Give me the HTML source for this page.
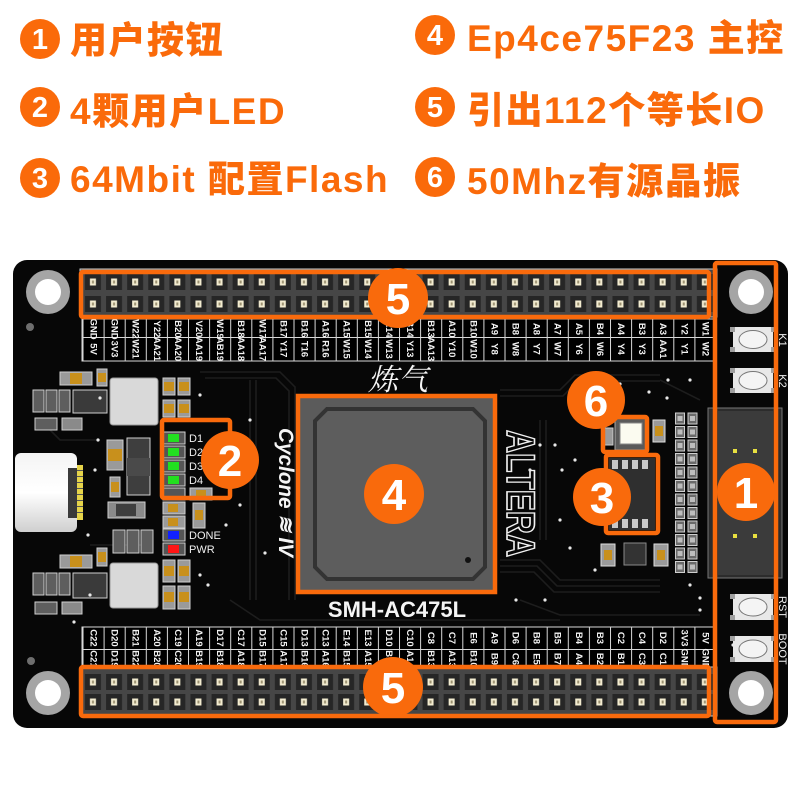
<!DOCTYPE html>
<html><head><meta charset="utf-8">
<style>
html,body{margin:0;padding:0;background:#fff;}
body{width:800px;height:800px;position:relative;overflow:hidden;font-family:"Liberation Sans","Noto Sans CJK SC",sans-serif;}
.t{position:absolute;font-size:37px;font-weight:900;color:#fa6a0a;line-height:37px;letter-spacing:1.5px;white-space:nowrap;font-family:"Liberation Sans","Noto Sans CJK SC",sans-serif;}
svg{position:absolute;left:0;top:0;}
</style></head><body>
<svg width="800" height="800" viewBox="0 0 800 800" xmlns="http://www.w3.org/2000/svg">
<defs>
  <pattern id="pinsT" x="82.45" y="271" width="21.1" height="22" patternUnits="userSpaceOnUse">
    <rect x="2.5" y="3" width="16" height="16" fill="#262626"/>
    <rect x="7.5" y="7.5" width="6" height="7" fill="#f3ecd0"/>
    <rect x="9.5" y="9.5" width="2" height="3" fill="#9a9070"/>
  </pattern>
  <pattern id="pinsB" x="82.45" y="672" width="21.1" height="20" patternUnits="userSpaceOnUse">
    <rect x="2.5" y="2" width="16" height="16" fill="#262626"/>
    <rect x="7.5" y="6.5" width="6" height="7" fill="#f3ecd0"/>
    <rect x="9.5" y="8.5" width="2" height="3" fill="#9a9070"/>
  </pattern>
  <pattern id="gridV" x="82.5" y="0" width="21.1" height="10" patternUnits="userSpaceOnUse">
    <rect x="0" y="0" width="1" height="10" fill="#d8d8d8"/>
  </pattern>
  <pattern id="rpack" x="675" y="412" width="23" height="13.5" patternUnits="userSpaceOnUse">
    <rect x="0.5" y="1" width="9" height="11" fill="#6a6a6a" stroke="#cfcfcf" stroke-width="1"/>
    <rect x="13" y="1" width="9" height="11" fill="#6a6a6a" stroke="#cfcfcf" stroke-width="1"/>
    <rect x="2.5" y="4" width="5" height="5" fill="#bdbdbd"/>
    <rect x="15" y="4" width="5" height="5" fill="#bdbdbd"/>
  </pattern>
  <linearGradient id="usb" x1="0" y1="0" x2="0" y2="1">
    <stop offset="0" stop-color="#f4f4f4"/>
    <stop offset="0.5" stop-color="#ffffff"/>
    <stop offset="1" stop-color="#cfcfcf"/>
  </linearGradient>
</defs>

<!-- Board -->
<rect x="13" y="260" width="775" height="468" rx="14" fill="#070707"/>

<!-- subtle traces -->
<g fill="none" stroke="#1d1d1d" stroke-width="1.6">
  <path d="M200 372 H280 L295 387 V600"/>
  <path d="M205 378 H276 L289 391 V600"/>
  <path d="M500 390 H560 L575 375 H660"/>
  <path d="M500 396 H563 L578 381 H660"/>
  <path d="M500 560 H540 L560 580 H660"/>
  <path d="M500 566 H537 L557 586 H660"/>
  <path d="M500 572 H534 L554 592 H660"/>
  <path d="M230 600 L260 620 H560"/>
  <path d="M100 440 H60 L40 420"/>
  <path d="M520 600 L560 615 H700"/>
  <path d="M660 380 L700 400"/>
  <path d="M90 545 H150"/>
  <path d="M250 380 V600"/>
  <path d="M256 380 V600"/>
  <path d="M540 420 V540"/>
  <path d="M546 420 V540"/>
</g>

<!-- small gray marker dots -->
<circle cx="30" cy="327" r="4" fill="#6e6e6e"/>
<circle cx="31" cy="661" r="4" fill="#6e6e6e"/>

<!-- Mounting holes -->
<g>
  <circle cx="48" cy="292" r="22" fill="#a5a5a5"/><circle cx="48" cy="292" r="13" fill="#fff"/>
  <circle cx="751" cy="292" r="22" fill="#a5a5a5"/><circle cx="751" cy="292" r="13" fill="#fff"/>
  <circle cx="48" cy="693" r="22" fill="#a5a5a5"/><circle cx="48" cy="693" r="13" fill="#fff"/>
  <circle cx="751" cy="693" r="22" fill="#a5a5a5"/><circle cx="751" cy="693" r="13" fill="#fff"/>
</g>

<!-- TOP HEADER -->
<rect x="80" y="269" width="637" height="48" fill="#464646" stroke="#cfcfcf" stroke-width="1"/>
<rect x="80" y="271" width="637" height="44" fill="url(#pinsT)"/>
<rect x="82" y="319" width="634" height="42" fill="#000" stroke="#d8d8d8" stroke-width="1"/>
<rect x="82" y="319" width="635" height="42" fill="url(#gridV)"/>
<rect x="82" y="337" width="634" height="1" fill="#d8d8d8"/>

<!-- BOTTOM HEADER -->
<rect x="82" y="627" width="634" height="41" fill="#000" stroke="#d8d8d8" stroke-width="1"/>
<rect x="82" y="627" width="635" height="41" fill="url(#gridV)"/>
<rect x="82" y="649" width="634" height="1" fill="#d8d8d8"/>
<rect x="80" y="667" width="637" height="49" fill="#464646" stroke="#cfcfcf" stroke-width="1"/>
<rect x="80" y="672" width="637" height="40" fill="url(#pinsB)"/>

<!-- pin labels -->
<g fill="#f2f2f2" font-family="Liberation Sans, sans-serif" font-size="9.5" font-weight="bold" text-anchor="middle" dominant-baseline="central">
  <!-- top row1 -->
  <text transform="translate(93,329) rotate(90)">GND</text>
  <text transform="translate(114.1,329) rotate(90)">GND</text>
  <text transform="translate(135.2,329) rotate(90)">W22</text>
  <text transform="translate(156.3,329) rotate(90)">Y22</text>
  <text transform="translate(177.4,329) rotate(90)">B20</text>
  <text transform="translate(198.5,329) rotate(90)">V20</text>
  <text transform="translate(219.6,329) rotate(90)">W19</text>
  <text transform="translate(240.7,329) rotate(90)">B18</text>
  <text transform="translate(261.8,329) rotate(90)">W17</text>
  <text transform="translate(282.9,329) rotate(90)">B17</text>
  <text transform="translate(304,329) rotate(90)">B16</text>
  <text transform="translate(325.1,329) rotate(90)">A16</text>
  <text transform="translate(346.2,329) rotate(90)">A15</text>
  <text transform="translate(367.3,329) rotate(90)">B15</text>
  <text transform="translate(388.4,329) rotate(90)">A14</text>
  <text transform="translate(409.5,329) rotate(90)">B14</text>
  <text transform="translate(430.6,329) rotate(90)">B13</text>
  <text transform="translate(451.7,329) rotate(90)">A10</text>
  <text transform="translate(472.8,329) rotate(90)">B10</text>
  <text transform="translate(493.9,329) rotate(90)">A9</text>
  <text transform="translate(515,329) rotate(90)">B8</text>
  <text transform="translate(536.1,329) rotate(90)">A8</text>
  <text transform="translate(557.2,329) rotate(90)">A7</text>
  <text transform="translate(578.3,329) rotate(90)">A5</text>
  <text transform="translate(599.4,329) rotate(90)">B4</text>
  <text transform="translate(620.5,329) rotate(90)">A4</text>
  <text transform="translate(641.6,329) rotate(90)">B3</text>
  <text transform="translate(662.7,329) rotate(90)">A3</text>
  <text transform="translate(683.8,329) rotate(90)">Y2</text>
  <text transform="translate(704.9,329) rotate(90)">W1</text>
  <!-- top row2 -->
  <text transform="translate(93,349) rotate(90)">5V</text>
  <text transform="translate(114.1,349) rotate(90)">3V3</text>
  <text transform="translate(135.2,349) rotate(90)">W21</text>
  <text transform="translate(156.3,349) rotate(90)">AA21</text>
  <text transform="translate(177.4,349) rotate(90)">AA20</text>
  <text transform="translate(198.5,349) rotate(90)">AA19</text>
  <text transform="translate(219.6,349) rotate(90)">AB19</text>
  <text transform="translate(240.7,349) rotate(90)">AA18</text>
  <text transform="translate(261.8,349) rotate(90)">AA17</text>
  <text transform="translate(282.9,349) rotate(90)">Y17</text>
  <text transform="translate(304,349) rotate(90)">T16</text>
  <text transform="translate(325.1,349) rotate(90)">R16</text>
  <text transform="translate(346.2,349) rotate(90)">W15</text>
  <text transform="translate(367.3,349) rotate(90)">W14</text>
  <text transform="translate(388.4,349) rotate(90)">W13</text>
  <text transform="translate(409.5,349) rotate(90)">Y13</text>
  <text transform="translate(430.6,349) rotate(90)">AA13</text>
  <text transform="translate(451.7,349) rotate(90)">Y10</text>
  <text transform="translate(472.8,349) rotate(90)">W10</text>
  <text transform="translate(493.9,349) rotate(90)">Y8</text>
  <text transform="translate(515,349) rotate(90)">W8</text>
  <text transform="translate(536.1,349) rotate(90)">Y7</text>
  <text transform="translate(557.2,349) rotate(90)">W7</text>
  <text transform="translate(578.3,349) rotate(90)">Y6</text>
  <text transform="translate(599.4,349) rotate(90)">W6</text>
  <text transform="translate(620.5,349) rotate(90)">Y4</text>
  <text transform="translate(641.6,349) rotate(90)">Y3</text>
  <text transform="translate(662.7,349) rotate(90)">AA1</text>
  <text transform="translate(683.8,349) rotate(90)">Y1</text>
  <text transform="translate(704.9,349) rotate(90)">W2</text>
  <!-- bottom row1 -->
  <text transform="translate(93,638) rotate(90)">C22</text>
  <text transform="translate(114.1,638) rotate(90)">D20</text>
  <text transform="translate(135.2,638) rotate(90)">B21</text>
  <text transform="translate(156.3,638) rotate(90)">A20</text>
  <text transform="translate(177.4,638) rotate(90)">C19</text>
  <text transform="translate(198.5,638) rotate(90)">A19</text>
  <text transform="translate(219.6,638) rotate(90)">D17</text>
  <text transform="translate(240.7,638) rotate(90)">C17</text>
  <text transform="translate(261.8,638) rotate(90)">D15</text>
  <text transform="translate(282.9,638) rotate(90)">C15</text>
  <text transform="translate(304,638) rotate(90)">D13</text>
  <text transform="translate(325.1,638) rotate(90)">C13</text>
  <text transform="translate(346.2,638) rotate(90)">E14</text>
  <text transform="translate(367.3,638) rotate(90)">E13</text>
  <text transform="translate(388.4,638) rotate(90)">D10</text>
  <text transform="translate(409.5,638) rotate(90)">C10</text>
  <text transform="translate(430.6,638) rotate(90)">C8</text>
  <text transform="translate(451.7,638) rotate(90)">C7</text>
  <text transform="translate(472.8,638) rotate(90)">E6</text>
  <text transform="translate(493.9,638) rotate(90)">A9</text>
  <text transform="translate(515,638) rotate(90)">D6</text>
  <text transform="translate(536.1,638) rotate(90)">B8</text>
  <text transform="translate(557.2,638) rotate(90)">B5</text>
  <text transform="translate(578.3,638) rotate(90)">B4</text>
  <text transform="translate(599.4,638) rotate(90)">B3</text>
  <text transform="translate(620.5,638) rotate(90)">C2</text>
  <text transform="translate(641.6,638) rotate(90)">C4</text>
  <text transform="translate(662.7,638) rotate(90)">D2</text>
  <text transform="translate(683.8,638) rotate(90)">3V3</text>
  <text transform="translate(704.9,638) rotate(90)">5V</text>
  <!-- bottom row2 -->
  <text transform="translate(93,659) rotate(90)">C21</text>
  <text transform="translate(114.1,659) rotate(90)">D19</text>
  <text transform="translate(135.2,659) rotate(90)">B22</text>
  <text transform="translate(156.3,659) rotate(90)">B20</text>
  <text transform="translate(177.4,659) rotate(90)">C20</text>
  <text transform="translate(198.5,659) rotate(90)">B19</text>
  <text transform="translate(219.6,659) rotate(90)">B18</text>
  <text transform="translate(240.7,659) rotate(90)">A18</text>
  <text transform="translate(261.8,659) rotate(90)">B17</text>
  <text transform="translate(282.9,659) rotate(90)">A17</text>
  <text transform="translate(304,659) rotate(90)">B16</text>
  <text transform="translate(325.1,659) rotate(90)">A16</text>
  <text transform="translate(346.2,659) rotate(90)">B15</text>
  <text transform="translate(367.3,659) rotate(90)">A15</text>
  <text transform="translate(388.4,659) rotate(90)">B14</text>
  <text transform="translate(409.5,659) rotate(90)">A14</text>
  <text transform="translate(430.6,659) rotate(90)">B13</text>
  <text transform="translate(451.7,659) rotate(90)">A13</text>
  <text transform="translate(472.8,659) rotate(90)">B10</text>
  <text transform="translate(493.9,659) rotate(90)">B9</text>
  <text transform="translate(515,659) rotate(90)">C6</text>
  <text transform="translate(536.1,659) rotate(90)">E5</text>
  <text transform="translate(557.2,659) rotate(90)">B7</text>
  <text transform="translate(578.3,659) rotate(90)">A4</text>
  <text transform="translate(599.4,659) rotate(90)">B2</text>
  <text transform="translate(620.5,659) rotate(90)">B1</text>
  <text transform="translate(641.6,659) rotate(90)">C3</text>
  <text transform="translate(662.7,659) rotate(90)">C1</text>
  <text transform="translate(683.8,659) rotate(90)">GND</text>
  <text transform="translate(704.9,659) rotate(90)">GND</text>
</g>

<!-- LEFT COMPONENTS (top group) -->
<g stroke="#cfcfcf" stroke-width="1">
  <rect x="60" y="372" width="32" height="13" fill="#9a9a9a"/>
  <rect x="97" y="369" width="10" height="17" fill="#9a9a9a"/>
  <rect x="33" y="390" width="11" height="22" fill="#5e5e5e"/>
  <rect x="46" y="390" width="11" height="22" fill="#5e5e5e"/>
  <rect x="59" y="390" width="11" height="22" fill="#5e5e5e"/>
  <rect x="73" y="390" width="34" height="23" fill="#3a3a3a"/>
  <rect x="35" y="418" width="22" height="12" fill="#5e5e5e"/>
  <rect x="62" y="418" width="20" height="12" fill="#8a8a8a"/>
  <rect x="110" y="378" width="48" height="47" rx="3" fill="#d9d9d9" stroke="#9a9a9a"/>
  <rect x="163" y="378" width="12" height="17" fill="#9a9a9a"/>
  <rect x="178" y="378" width="12" height="17" fill="#9a9a9a"/>
  <rect x="163" y="400" width="12" height="17" fill="#9a9a9a"/>
  <rect x="178" y="400" width="12" height="17" fill="#9a9a9a"/>
  <rect x="107" y="440" width="16" height="30" fill="#9a9a9a"/>
  <rect x="127" y="438" width="23" height="57" fill="#3e3e3e"/>
  <rect x="110" y="477" width="10" height="20" fill="#9a9a9a"/>
  <rect x="108" y="502" width="37" height="16" fill="#8a8a8a"/>
  <rect x="113" y="530" width="12" height="23" fill="#5e5e5e"/>
  <rect x="127" y="530" width="12" height="23" fill="#5e5e5e"/>
  <rect x="141" y="530" width="12" height="23" fill="#5e5e5e"/>
  <!-- bottom group -->
  <rect x="60" y="555" width="32" height="13" fill="#9a9a9a"/>
  <rect x="97" y="548" width="10" height="18" fill="#9a9a9a"/>
  <rect x="33" y="573" width="11" height="22" fill="#5e5e5e"/>
  <rect x="46" y="573" width="11" height="22" fill="#5e5e5e"/>
  <rect x="59" y="573" width="11" height="22" fill="#5e5e5e"/>
  <rect x="73" y="573" width="34" height="25" fill="#3a3a3a"/>
  <rect x="35" y="602" width="22" height="12" fill="#5e5e5e"/>
  <rect x="62" y="602" width="20" height="12" fill="#8a8a8a"/>
  <rect x="110" y="563" width="48" height="45" rx="3" fill="#d9d9d9" stroke="#9a9a9a"/>
  <rect x="163" y="560" width="12" height="22" fill="#9a9a9a"/>
  <rect x="178" y="560" width="12" height="22" fill="#9a9a9a"/>
  <rect x="163" y="586" width="12" height="23" fill="#9a9a9a"/>
  <rect x="178" y="586" width="12" height="23" fill="#9a9a9a"/>
</g>
<!-- tan capacitor centers -->
<g fill="#c8901c">
  <rect x="70" y="373" width="12" height="11"/>
  <rect x="98" y="373" width="8" height="9"/>
  <rect x="108" y="449" width="14" height="12"/>
  <rect x="111" y="482" width="8" height="10"/>
  <rect x="164" y="382" width="10" height="9"/><rect x="179" y="382" width="10" height="9"/>
  <rect x="164" y="404" width="10" height="9"/><rect x="179" y="404" width="10" height="9"/>
  <rect x="70" y="556" width="12" height="11"/>
  <rect x="98" y="552" width="8" height="10"/>
  <rect x="164" y="566" width="10" height="10"/><rect x="179" y="566" width="10" height="10"/>
  <rect x="164" y="592" width="10" height="10"/><rect x="179" y="592" width="10" height="10"/>
</g>
<rect x="127" y="458" width="23" height="18" fill="#4a4a4a"/>
<rect x="116" y="504" width="20" height="12" fill="#3e3e3e"/>

<!-- USB-C -->
<rect x="15" y="453" width="62" height="79" rx="6" fill="url(#usb)"/>
<rect x="68" y="468" width="10" height="50" fill="#3a3a3a"/>
<rect x="77" y="465" width="6" height="55" fill="#e6d44a"/>
<g fill="#555"><rect x="77" y="470" width="6" height="1"/><rect x="77" y="476" width="6" height="1"/><rect x="77" y="482" width="6" height="1"/><rect x="77" y="488" width="6" height="1"/><rect x="77" y="494" width="6" height="1"/><rect x="77" y="500" width="6" height="1"/><rect x="77" y="506" width="6" height="1"/><rect x="77" y="512" width="6" height="1"/></g>

<!-- LEDs -->
<g stroke="#d0d0d0" stroke-width="1">
  <rect x="163" y="432" width="22" height="12" fill="#555"/>
  <rect x="163" y="446" width="22" height="12" fill="#555"/>
  <rect x="163" y="460" width="22" height="12" fill="#555"/>
  <rect x="163" y="474" width="22" height="12" fill="#555"/>
  <rect x="163" y="488" width="22" height="12" fill="#555"/>
  <rect x="190" y="488" width="22" height="12" fill="#9a9a9a"/>
  <rect x="163" y="502" width="22" height="12" fill="#9a9a9a"/>
  <rect x="163" y="516" width="22" height="12" fill="#9a9a9a"/>
  <rect x="193" y="503" width="12" height="25" fill="#9a9a9a"/>
  <rect x="163" y="529" width="22" height="12" fill="#555"/>
  <rect x="163" y="543" width="22" height="12" fill="#555"/>
</g>
<g>
  <rect x="168" y="434" width="11" height="8" fill="#22e020"/>
  <rect x="168" y="448" width="11" height="8" fill="#22e020"/>
  <rect x="168" y="462" width="11" height="8" fill="#22e020"/>
  <rect x="168" y="476" width="11" height="8" fill="#22e020"/>
  <rect x="168" y="531" width="11" height="8" fill="#1020ff"/>
  <rect x="168" y="545" width="11" height="8" fill="#ff1515"/>
  <rect x="196" y="490" width="10" height="8" fill="#c8901c"/>
  <rect x="168" y="504" width="10" height="8" fill="#c8901c"/>
  <rect x="168" y="518" width="10" height="8" fill="#c8901c"/>
  <rect x="195" y="510" width="8" height="10" fill="#c8901c"/>
</g>
<g fill="#f0f0f0" font-family="Liberation Sans, sans-serif" font-size="11">
  <text x="189" y="442">D1</text>
  <text x="189" y="456">D2</text>
  <text x="189" y="470">D3</text>
  <text x="189" y="484">D4</text>
  <text x="189" y="539">DONE</text>
  <text x="189" y="553">PWR</text>
</g>

<!-- Calligraphy -->
<text x="398" y="390" text-anchor="middle" fill="#f5f5f5" font-family="Noto Serif CJK SC, serif" font-size="30" font-style="italic">炼气</text>

<!-- Cyclone IV -->
<text transform="translate(279,428) rotate(90)" fill="#f5f5f5" font-family="Liberation Sans, sans-serif" font-size="21" font-weight="bold" font-style="italic" textLength="129" lengthAdjust="spacingAndGlyphs">Cyclone ≋ IV</text>

<!-- ALTERA -->
<text transform="translate(507,430) rotate(90)" fill="none" stroke="#f2f2f2" stroke-width="1.6" font-family="Liberation Sans, sans-serif" font-size="40" font-weight="bold" textLength="127" lengthAdjust="spacingAndGlyphs">ALTERA</text>

<!-- FPGA chip -->
<rect x="298" y="396" width="197" height="196" fill="#5b5b5b" stroke="#f96a0c" stroke-width="4.5"/>
<path d="M327 409 H473 L485 421 V567 L473 579 H327 L315 567 V421 Z" fill="#5d5d5d" stroke="#333" stroke-width="4"/>
<circle cx="468" cy="560" r="3" fill="#111"/>
<text x="397" y="617" text-anchor="middle" fill="#f5f5f5" font-family="Liberation Sans, sans-serif" font-size="22" font-weight="bold">SMH-AC475L</text>

<!-- Right area components -->
<rect x="675" y="412" width="23" height="162" fill="url(#rpack)"/>
<!-- crystal -->
<rect x="604" y="428" width="9" height="17" fill="#9a9a9a" stroke="#ccc"/>
<rect x="615" y="418" width="32" height="32" fill="#5a5a5a" stroke="#aaa"/>
<rect x="620" y="423" width="22" height="21" fill="#fbfbf0" stroke="#888"/>
<rect x="653" y="420" width="12" height="22" fill="#9a9a9a" stroke="#ddd"/>
<rect x="655" y="426" width="8" height="10" fill="#c8901c"/>
<!-- flash -->
<rect x="609" y="458" width="46" height="72" fill="#2f2f2f"/>
<g fill="#c8c8c8"><rect x="622" y="460" width="6" height="9"/><rect x="632" y="460" width="6" height="9"/><rect x="642" y="460" width="6" height="9"/><rect x="612" y="460" width="6" height="9"/>
<rect x="612" y="519" width="6" height="9"/><rect x="622" y="519" width="6" height="9"/><rect x="632" y="519" width="6" height="9"/><rect x="642" y="519" width="6" height="9"/></g>
<!-- bottom small comps -->
<rect x="601" y="544" width="14" height="22" fill="#9a9a9a" stroke="#ddd"/>
<rect x="604" y="550" width="8" height="10" fill="#c8901c"/>
<rect x="624" y="543" width="22" height="22" fill="#333" stroke="#888"/>
<rect x="654" y="544" width="14" height="22" fill="#9a9a9a" stroke="#ddd"/>
<rect x="657" y="550" width="8" height="10" fill="#c8901c"/>

<!-- vias -->
<g fill="#e8e8e8">
  <circle cx="620" cy="384" r="1.6"/><circle cx="649" cy="392" r="1.6"/><circle cx="668" cy="380" r="1.6"/>
  <circle cx="667" cy="398" r="1.6"/><circle cx="690" cy="380" r="1.6"/><circle cx="575" cy="460" r="1.6"/>
  <circle cx="562" cy="470" r="1.6"/><circle cx="560" cy="520" r="1.6"/><circle cx="570" cy="548" r="1.6"/>
  <circle cx="545" cy="600" r="1.6"/><circle cx="595" cy="570" r="1.6"/><circle cx="690" cy="585" r="1.6"/>
  <circle cx="700" cy="598" r="1.6"/><circle cx="700" cy="610" r="1.6"/><circle cx="240" cy="505" r="1.6"/>
  <circle cx="226" cy="525" r="1.6"/><circle cx="250" cy="420" r="1.6"/><circle cx="265" cy="553" r="1.6"/>
  <circle cx="100" cy="398" r="1.6"/><circle cx="98" cy="440" r="1.6"/><circle cx="95" cy="470" r="1.6"/>
  <circle cx="88" cy="535" r="1.6"/><circle cx="90" cy="595" r="1.6"/><circle cx="200" cy="395" r="1.6"/>
  <circle cx="200" cy="575" r="1.6"/><circle cx="208" cy="585" r="1.6"/><circle cx="516" cy="600" r="1.6"/>
  <circle cx="540" cy="445" r="1.6"/><circle cx="555" cy="445" r="1.6"/><circle cx="530" cy="470" r="1.6"/>
  <circle cx="74" cy="622" r="1.6"/><circle cx="733" cy="645" r="1.6"/>
</g>

<!-- Connector right -->
<rect x="708" y="408" width="74" height="170" fill="#2c2c2c" stroke="#777" stroke-width="1"/>
<rect x="718" y="411" width="55" height="164" fill="#3b3b3b"/>
<rect x="733" y="449" width="4" height="4" fill="#e8e040"/>
<rect x="753" y="449" width="4" height="4" fill="#e8e040"/>
<rect x="733" y="534" width="4" height="4" fill="#e8e040"/>
<rect x="753" y="534" width="4" height="4" fill="#e8e040"/>

<!-- Buttons -->
<g>
  <rect x="733" y="327" width="40" height="25" rx="2" fill="#e8e8e8"/>
  <ellipse cx="753" cy="339.5" rx="14" ry="9" fill="#f4f4f4" stroke="#777" stroke-width="1"/>
  <rect x="733" y="368" width="40" height="25" rx="2" fill="#e8e8e8"/>
  <ellipse cx="753" cy="380.5" rx="14" ry="9" fill="#f4f4f4" stroke="#777" stroke-width="1"/>
  <rect x="733" y="594" width="40" height="26" rx="2" fill="#e8e8e8"/>
  <ellipse cx="753" cy="607" rx="14" ry="9" fill="#f4f4f4" stroke="#777" stroke-width="1"/>
  <rect x="733" y="636" width="40" height="26" rx="2" fill="#e8e8e8"/>
  <ellipse cx="753" cy="649" rx="14" ry="9" fill="#f4f4f4" stroke="#777" stroke-width="1"/>
</g>
<g fill="#a0a0a0">
  <rect x="730" y="327" width="5" height="5"/><rect x="771" y="327" width="5" height="5"/><rect x="730" y="347" width="5" height="5"/><rect x="771" y="347" width="5" height="5"/>
  <rect x="730" y="368" width="5" height="5"/><rect x="771" y="368" width="5" height="5"/><rect x="730" y="388" width="5" height="5"/><rect x="771" y="388" width="5" height="5"/>
  <rect x="730" y="594" width="5" height="5"/><rect x="771" y="594" width="5" height="5"/><rect x="730" y="615" width="5" height="5"/><rect x="771" y="615" width="5" height="5"/>
  <rect x="730" y="636" width="5" height="5"/><rect x="771" y="636" width="5" height="5"/><rect x="730" y="657" width="5" height="5"/><rect x="771" y="657" width="5" height="5"/>
</g>
<g fill="#f0f0f0" font-family="Liberation Sans, sans-serif" font-size="11" text-anchor="middle" dominant-baseline="central">
  <text transform="translate(782,340) rotate(90)">K1</text>
  <text transform="translate(782,381) rotate(90)">K2</text>
  <text transform="translate(782,607) rotate(90)">RST</text>
  <text transform="translate(782,649) rotate(90)">BOOT</text>
</g>

<!-- Orange annotation boxes -->
<g fill="none" stroke="#f96a0c" stroke-width="4.5">
  <rect x="81" y="272" width="628" height="45" rx="2"/>
  <rect x="81" y="667" width="628" height="49" rx="2"/>
  <rect x="715" y="263" width="61" height="459" rx="2"/>
  <rect x="162" y="420" width="68" height="78" rx="2"/>
  <rect x="603" y="417" width="44" height="35" rx="2"/>
  <rect x="606" y="455" width="52" height="78" rx="2"/>
</g>

<!-- Badges on board -->
<g fill="#f96a0c">
  <circle cx="398" cy="298" r="30"/>
  <circle cx="393" cy="687" r="30"/>
  <circle cx="394" cy="494" r="30"/>
  <circle cx="230" cy="460" r="29"/>
  <circle cx="596" cy="400" r="29"/>
  <circle cx="602" cy="497" r="29"/>
  <circle cx="746" cy="492" r="29"/>
</g>
<g fill="#fff" font-family="Liberation Sans, sans-serif" font-size="44" font-weight="bold" text-anchor="middle">
  <text x="398" y="314">5</text>
  <text x="393" y="703">5</text>
  <text x="394" y="510">4</text>
  <text x="230" y="476">2</text>
  <text x="596" y="416">6</text>
  <text x="602" y="513">3</text>
  <text x="746" y="508">1</text>
</g>

<!-- Heading badges -->
<g fill="#fa6a0a">
  <circle cx="40" cy="39" r="20"/>
  <circle cx="40" cy="107" r="20"/>
  <circle cx="40" cy="178" r="20"/>
  <circle cx="435" cy="35" r="20"/>
  <circle cx="435" cy="107" r="20"/>
  <circle cx="435" cy="177" r="20"/>
</g>
<g fill="#fff" font-family="Liberation Sans, sans-serif" font-size="29" font-weight="bold" text-anchor="middle">
  <text x="40" y="49">1</text>
  <text x="40" y="117">2</text>
  <text x="40" y="188">3</text>
  <text x="435" y="45">4</text>
  <text x="435" y="117">5</text>
  <text x="435" y="187">6</text>
</g>
</svg>

<div class="t" style="left:70px;top:22px">用户按钮</div>
<div class="t" style="left:70px;top:93px">4颗用户LED</div>
<div class="t" style="left:70px;top:161px">64Mbit 配置Flash</div>
<div class="t" style="left:467px;top:20px">Ep4ce75F23 主控</div>
<div class="t" style="left:467px;top:92px">引出112个等长IO</div>
<div class="t" style="left:467px;top:163px">50Mhz有源晶振</div>
</body></html>
